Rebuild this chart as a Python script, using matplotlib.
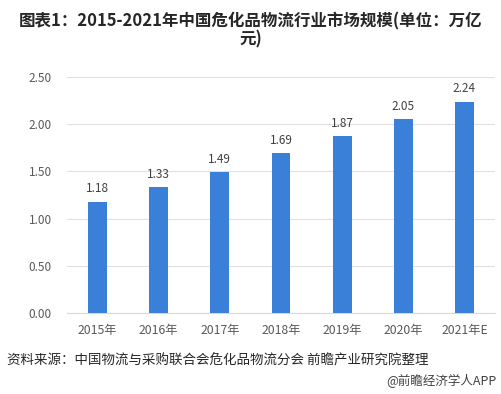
import matplotlib.pyplot as plt

plt.rcParams['font.family'] = ['Noto Sans CJK SC', 'DejaVu Sans']

years = ["2015年", "2016年", "2017年", "2018年", "2019年", "2020年", "2021年E"]
values = [1.18, 1.33, 1.49, 1.69, 1.87, 2.05, 2.24]

fig = plt.figure(figsize=(5.02, 3.94), dpi=100)
ax = fig.add_axes([67/502, 1 - 313/394, 428/502, 236/394])

ax.bar(range(len(years)), values, width=0.31, color="#3A7FD8", zorder=3)
for i, v in enumerate(values):
    ax.text(i, v + 0.07, f"{v:.2f}", ha="center", va="bottom", fontsize=8.5, color="#404040")

ax.set_ylim(0, 2.5)
ax.set_xlim(-0.5, len(years) - 0.5)
ax.set_yticks([0, 0.5, 1.0, 1.5, 2.0, 2.5])
ax.set_yticklabels([f"{t:.2f}" for t in ax.get_yticks()], fontsize=8.5, color="#595959")
ax.set_xticks(range(len(years)))
ax.set_xticklabels(years, fontsize=8.8, color="#595959")
ax.grid(axis="y", color="#E0E0E0", linewidth=0.8, zorder=0)
for s in ["top", "right", "left"]:
    ax.spines[s].set_visible(False)
ax.spines["bottom"].set_color("#D9D9D9")
ax.tick_params(axis="y", length=0, pad=11)
ax.tick_params(axis="x", length=0, pad=8)

fig.text(0.5, 1 - 21/394, "图表1：2015-2021年中国危化品物流行业市场规模(单位：万亿",
         ha="center", va="center", fontsize=11.9, fontweight="bold", color="#262626")
fig.text(0.5, 1 - 39/394, "元)", ha="center", va="center",
         fontsize=11.9, fontweight="bold", color="#262626")
fig.text(7/502, 1 - 361/394, "资料来源：中国物流与采购联合会危化品物流分会 前瞻产业研究院整理",
         ha="left", va="center", fontsize=9.7, color="#262626")
fig.text(497/502, 1 - 381/394, "@前瞻经济学人APP", ha="right", va="center",
         fontsize=9, color="#404040")

fig.savefig("out.png", dpi=100)
